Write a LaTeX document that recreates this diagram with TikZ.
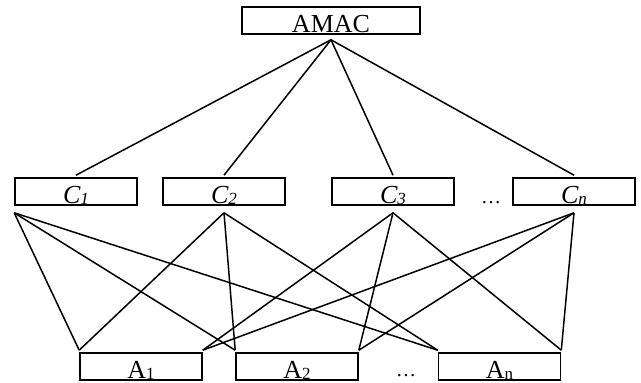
\documentclass[tikz,border=0pt]{standalone}
\usepackage{fontspec}
\setmainfont{Liberation Serif}
\usetikzlibrary{positioning}
\newcommand{\lowidx}[1]{\raisebox{-1.5pt}{\fontsize{17}{20}\selectfont #1}}

\begin{document}
\begin{tikzpicture}[x=1pt,y=-1pt]
	\tikzset{box/.style={draw,line width=1.6pt,inner sep=0pt,text height=25pt,text depth=2pt,minimum width=122pt,font=\fontsize{26}{30}\selectfont},
		link/.style={line width=1.5pt},
		dots/.style={anchor=base,inner sep=0pt,font=\fontsize{20}{24}\selectfont}}
	\useasboundingbox (0,0) rectangle (641,383);

	%% top
	\node[box,minimum width=178pt] (amac) at (331,20.5) {AMAC};

	%% criteria
	\node[box] (c1) at (76,191.5) {\textit{C\lowidx{1}}};
	\node[box] (c2) at (224,191.5) {\textit{C\lowidx{2}}};
	\node[box] (c3) at (393,191.5) {\textit{C\lowidx{3}}};
	\node[dots] (cdots) at (491,203) {\ldots};
	\node[box] (cn) at (574,191.5) {\textit{C\lowidx{n}}};

	%% alternatives
	\node[box] (a1) at (141,366.5) {A\lowidx{1}};
	\node[box] (a2) at (297,366.5) {A\lowidx{2}};
	\node[dots] (adots) at (406,376) {\ldots};
	\node[box] (an) at (499.5,366.5) {A\lowidx{n}};

	\path[link]
		([yshift=-5pt]amac.south) edge ([yshift=2pt]c1.north)
		([yshift=-5pt]amac.south) edge ([yshift=2pt]c2.north)
		([yshift=-5pt]amac.south) edge ([yshift=2pt]c3.north)
		([yshift=-5pt]amac.south) edge ([yshift=2pt]cn.north);

	\path[link]
		([yshift=-7pt]c1.south west) edge ([yshift=2pt]a1.north west)
		([yshift=-7pt]c1.south west) edge ([yshift=2pt]a2.north west)
		([yshift=-7pt]c1.south west) edge ([yshift=2pt]an.north west)
		([yshift=-7pt]c2.south) edge ([yshift=2pt]a1.north west)
		([yshift=-7pt]c2.south) edge ([yshift=2pt]a2.north west)
		([yshift=-7pt]c2.south) edge ([yshift=2pt]an.north west)
		([yshift=-7pt]c3.south) edge ([yshift=2pt]a1.north east)
		([yshift=-7pt]c3.south) edge ([yshift=2pt]a2.north east)
		([yshift=-7pt]c3.south) edge ([yshift=2pt]an.north east)
		([yshift=-7pt]cn.south) edge ([yshift=2pt]a1.north east)
		([yshift=-7pt]cn.south) edge ([yshift=2pt]a2.north east)
		([yshift=-7pt]cn.south) edge ([yshift=2pt]an.north east);
\end{tikzpicture}
\end{document}
